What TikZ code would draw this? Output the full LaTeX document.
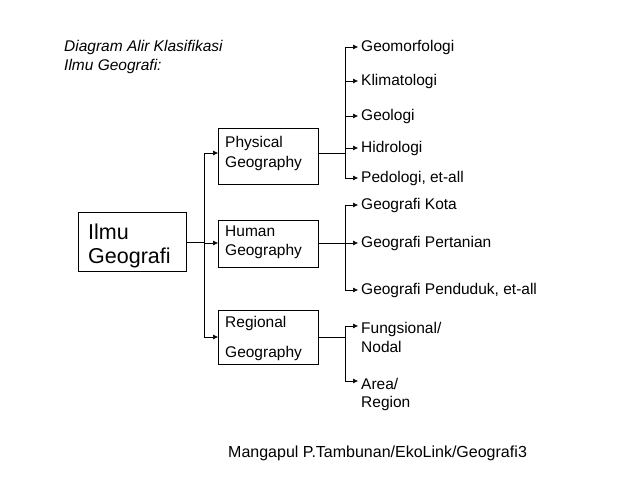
\documentclass[tikz,border=0pt]{standalone}
\usepackage{fontspec}
\setmainfont{Liberation Sans}
\usetikzlibrary{arrows.meta}
\begin{document}
\begin{tikzpicture}[x=1pt,y=-1pt,
  box/.style={draw,line width=0.5pt},
  lbl/.style={anchor=west,inner sep=0pt,font=\fontsize{15.5}{18}\selectfont},
  big/.style={anchor=west,inner sep=0pt,font=\fontsize{21.5}{24}\selectfont},
  ln/.style={line width=0.5pt},
  ar/.style={line width=0.5pt,-{Latex[length=5pt,width=5pt]}}]
\useasboundingbox (0,0) rectangle (638,478);
\node[lbl,font=\fontsize{15.5}{18}\selectfont\itshape] (t1) at (64,47) {Diagram Alir Klasifikasi};
\node[lbl,font=\fontsize{15.5}{18}\selectfont\itshape] (t2) at (64,66) {Ilmu Geografi:};
% boxes
\draw[box] (78,212) rectangle (186,271);
\node[big] (ilmu) at (88,232) {Ilmu};
\node[big] (geo) at (88,258) {Geografi};
\coordinate (ir) at (186,242);
\draw[box] (218,128) rectangle (318,184);
\node[lbl] (p1) at (225,143) {Physical};
\node[lbl] (p2) at (225,163) {Geography};
\draw[box] (218,220) rectangle (318,267);
\node[lbl] (h1) at (225,231) {Human};
\node[lbl] (h2) at (225,251) {Geography};
\draw[box] (218,310) rectangle (318,364);
\node[lbl] (r1) at (225,323) {Regional};
\node[lbl] (r2) at (225,353) {Geography};
% left tree
\coordinate (pl) at (218,153); \coordinate (hl) at (218,243); \coordinate (rl) at (218,337);
\draw[ln] (ir) -- (204,242);
\draw[ln] (204,153) -- (204,337);
\draw[ar] (204,153) -- (pl);
\draw[ar] (204,243) -- (hl);
\draw[ar] (204,337) -- (rl);
% physical
\draw[ln] (318,153) -- (345,153);
\draw[ln] (345,47) -- (345,178);
\foreach \y/\n/\t in {47/a/Geomorfologi,81/b/Klimatologi,116/c/Geologi,148/d/Hidrologi,178/e/{Pedologi, et-all}}{
  \node[lbl] (\n) at (361,\y) {\t};
  \draw[ar] (345,\y) -- ([xshift=-3pt]\n.west);
}
% human
\draw[ln] (318,243) -- (345,243);
\draw[ln] (345,205) -- (345,290);
\foreach \y/\n/\t in {205/f/Geografi Kota,243/g/Geografi Pertanian,290/h/{Geografi Penduduk, et-all}}{
  \node[lbl] (\n) at (361,\y) {\t};
  \draw[ar] (345,\y) -- ([xshift=-3pt]\n.west);
}
% regional
\draw[ln] (318,337) -- (345,337);
\draw[ln] (345,326) -- (345,381);
\node[lbl] (i1) at (361,329) {Fungsional/};
\node[lbl] (i2) at (361,347) {Nodal};
\node[lbl] (j1) at (361,384) {Area/};
\node[lbl] (j2) at (361,403) {Region};
\draw[ar] (345,326) -- (358,326);
\draw[ar] (345,381) -- (358,381);
% footer
\node[lbl,font=\fontsize{16}{18}\selectfont] (f) at (228,453) {Mangapul P.Tambunan/EkoLink/Geografi};
\node[lbl,font=\fontsize{16}{18}\selectfont] (n3) at (518,452) {3};
\end{tikzpicture}
\end{document}
